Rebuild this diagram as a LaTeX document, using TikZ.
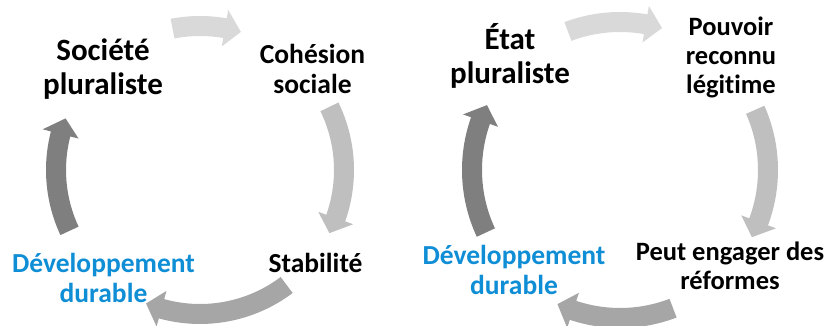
\documentclass[tikz,border=0pt]{standalone}
\usepackage{fontspec}
\setmainfont{Carlito}[RawFeature={-liga}]
\usetikzlibrary{positioning}

\definecolor{arrowA}{HTML}{D9D9D9}
\definecolor{arrowB}{HTML}{BFBFBF}
\definecolor{arrowC}{HTML}{A6A6A6}
\definecolor{arrowD}{HTML}{7F7F7F}
\definecolor{durable}{HTML}{0F8ED6}

\tikzset{
    x=1pt,
    y=1pt,
    step label/.style = {
        align=center,
        inner sep=0pt,
        font=\bfseries\fontsize{27.5}{30}\selectfont
    },
    small label/.style = {
        step label,
        font=\bfseries\fontsize{26.5}{29}\selectfont
    },
    big label/.style = {
        step label,
        font=\bfseries\fontsize{31}{34.5}\selectfont
    },
    goal label/.style = {
        step label,
        text=durable
    }
}

% curved block arrow on a circle: center, radius, start angle, end angle, colour
\newcommand{\cyclearrow}[5]{
    \pgfmathsetmacro{\hbase}{#4+6.5}
    \pgfmathsetmacro{\rout}{#2+10}
    \pgfmathsetmacro{\rin}{#2-10}
    \pgfmathsetmacro{\hout}{#2+18.5}
    \pgfmathsetmacro{\hin}{#2-18.5}
    \fill[#5] ([shift={(#3:\rout)}]#1) arc[start angle=#3, end angle=\hbase, radius=\rout]
        -- ([shift={(\hbase:\hout)}]#1) -- ([shift={(#4:#2)}]#1)
        -- ([shift={(\hbase:\hin)}]#1) -- ([shift={(\hbase:\rin)}]#1)
        arc[start angle=\hbase, end angle=#3, radius=\rin] -- cycle;
}

\begin{document}
\begin{tikzpicture}
    \useasboundingbox (0,0) rectangle (828,326);

    \coordinate (cl) at (200,156);
    \coordinate (cr) at (620,156);

    \cyclearrow{cl}{144}{101}{73.5}{arrowA}
    \cyclearrow{cl}{144}{26}{-26}{arrowB}
    \cyclearrow{cl}{144}{-53}{-112}{arrowC}
    \cyclearrow{cl}{144}{205}{159}{arrowD}

    \cyclearrow{cr}{148}{110.6}{73.5}{arrowA}
    \cyclearrow{cr}{148}{24}{-27}{arrowB}
    \cyclearrow{cr}{148}{-69}{-115}{arrowC}
    \cyclearrow{cr}{148}{205}{154}{arrowD}

    \node[big label] (soc) at (103,257) {Société\\pluraliste};
    \node[step label] (coh) at (312.5,257) {Cohésion\\sociale};
    \node[step label] (stab) at (315.5,63) {Stabilité};
    \node[goal label] (dev) at (103.5,48.5) {Développement\\durable};

    \node[big label] (etat) at (510,270) {État\\pluraliste};
    \node[small label] (pouv) at (731,268.6) {Pouvoir\\reconnu\\légitime};
    \node[small label] (peut) at (730,60.5) {Peut engager des\\réformes};
    \node[goal label] (dev2) at (514,56) {Développement\\durable};

\end{tikzpicture}
\end{document}
